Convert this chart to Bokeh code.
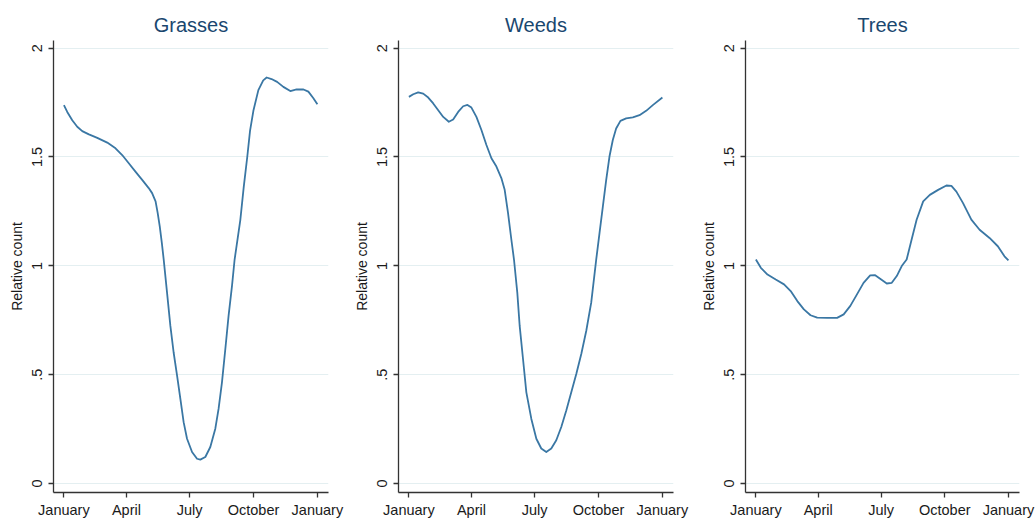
from bokeh.plotting import figure
from bokeh.layouts import row
from bokeh.models import FixedTicker
from bokeh.embed import file_html
from bokeh.resources import INLINE

# ---- data (day of year vs relative count) ----
month_ticks = [0, 90, 181, 273, 365]
month_labels = ["January", "April", "July", "October", "January"]
y_ticks = [0, 0.5, 1, 1.5, 2]
y_labels = ["0", ".5", "1", "1.5", "2"]

grasses_day = [0, 4.8, 12, 19.2, 26.4, 36, 48, 62.4, 74.3, 83.9, 93.4, 103, 112.7,
               122.1, 127, 132, 135, 138, 141, 143.7, 148.5, 153.3, 158, 163, 167.7,
               172.4, 177.3, 184.5, 191.7, 196.4, 203.6, 210.8, 218, 222.7, 227.6,
               232.4, 237.1, 242, 245.8, 254, 259, 264, 268, 273, 280, 287, 292, 299,
               307, 316, 326, 335, 345, 352, 359, 365]
grasses_val = [1.738, 1.707, 1.669, 1.639, 1.619, 1.604, 1.588, 1.566, 1.540, 1.509,
               1.471, 1.433, 1.395, 1.357, 1.334, 1.296, 1.243, 1.181, 1.105, 1.029,
               0.877, 0.724, 0.602, 0.495, 0.389, 0.282, 0.206, 0.145, 0.114, 0.110,
               0.122, 0.168, 0.252, 0.343, 0.465, 0.617, 0.770, 0.907, 1.029, 1.21,
               1.364, 1.50, 1.62, 1.715, 1.807, 1.852, 1.865, 1.858, 1.845, 1.822,
               1.803, 1.81, 1.81, 1.80, 1.771, 1.742]

weeds_day = [0, 6.2, 13.4, 20.6, 27.8, 35, 42.2, 49.4, 57.5, 63.7, 70.9, 78.1, 84.3,
             90, 97.2, 104.4, 111.6, 118.8, 126, 133.1, 137.9, 142.7, 147.5, 151.3,
             156.1, 159.5, 164.3, 169.1, 176.3, 183.5, 190.6, 197.8, 205, 212.2,
             219.4, 226.6, 233.8, 241, 248.2, 255.4, 262.5, 269.7, 274.5, 279.3,
             284.1, 288.8, 293.6, 298.4, 304.6, 312.8, 322.4, 332, 341.6, 351.2, 365]
weeds_val = [1.776, 1.788, 1.797, 1.791, 1.773, 1.746, 1.715, 1.684, 1.662, 1.672,
             1.707, 1.733, 1.739, 1.727, 1.684, 1.624, 1.555, 1.494, 1.456, 1.403,
             1.349, 1.243, 1.121, 1.029, 0.876, 0.724, 0.572, 0.419, 0.297, 0.206,
             0.161, 0.145, 0.161, 0.199, 0.260, 0.336, 0.419, 0.503, 0.595, 0.702,
             0.831, 1.029, 1.151, 1.273, 1.395, 1.502, 1.578, 1.631, 1.666, 1.677,
             1.682, 1.692, 1.712, 1.738, 1.773]

trees_day = [0, 7.2, 16.8, 28.7, 40.7, 50.3, 59.9, 69.4, 79, 88.6, 103, 117.4, 126.9,
             136.5, 146.1, 155.6, 165.2, 172.4, 179.6, 189.2, 196.4, 203.6, 210.8,
             217.9, 225.1, 232.3, 241.8, 251.4, 263.4, 275.4, 282.6, 289.8, 299.4,
             311.4, 323.3, 337.7, 349.7, 359.3, 365]
trees_val = [1.029, 0.991, 0.960, 0.937, 0.915, 0.884, 0.838, 0.800, 0.773, 0.762,
             0.761, 0.761, 0.777, 0.816, 0.869, 0.922, 0.956, 0.957, 0.941, 0.919,
             0.922, 0.953, 0.999, 1.029, 1.121, 1.212, 1.296, 1.326, 1.349, 1.369,
             1.367, 1.341, 1.288, 1.212, 1.166, 1.128, 1.090, 1.044, 1.025]

FONT = "Liberation Sans"
LINE = "#3a77a4"
TITLE = "#1a476f"
AXIS = "#333333"
GRID = "#e4eff1"
TEXT = "#1a1a1a"


def panel(title, days, vals, width, left, right):
    p = figure(width=width, height=520, x_range=(-15, 381), y_range=(-0.041, 2.035),
               output_backend="svg", toolbar_location=None,
               min_border_left=left, min_border_right=right,
               min_border_top=40, min_border_bottom=26)
    p.outline_line_color = None
    p.background_fill_color = "white"
    p.border_fill_color = "white"

    p.title.text = title
    p.title.align = "center"
    p.title.text_font = FONT
    p.title.text_font_size = "20px"
    p.title.text_font_style = "normal"
    p.title.text_color = TITLE

    p.line(days, vals, line_color=LINE, line_width=1.8, line_join="round")

    p.xgrid.visible = False
    p.ygrid.grid_line_color = GRID
    p.ygrid.grid_line_width = 1.2
    p.ygrid.ticker = FixedTicker(ticks=y_ticks)

    xa = p.xaxis[0]
    xa.ticker = FixedTicker(ticks=month_ticks)
    xa.major_label_overrides = {t: l for t, l in zip(month_ticks, month_labels)}
    xa.axis_label_standoff = 0
    ya = p.yaxis[0]
    ya.ticker = FixedTicker(ticks=y_ticks)
    ya.major_label_overrides = {t: l for t, l in zip(y_ticks, y_labels)}
    ya.major_label_orientation = "vertical"
    ya.axis_label = "Relative count"
    ya.axis_label_text_font = FONT
    ya.axis_label_text_font_size = "14px"
    ya.axis_label_text_font_style = "normal"
    ya.axis_label_text_color = TEXT
    ya.axis_label_standoff = 5

    for ax in (xa, ya):
        ax.axis_line_color = AXIS
        ax.axis_line_width = 1.3
        ax.major_tick_line_color = AXIS
        ax.major_tick_line_width = 1.3
        ax.major_tick_out = 5
        ax.major_tick_in = 0
        ax.minor_tick_line_color = None
        ax.major_label_text_font = FONT
        ax.major_label_text_font_size = "14.5px"
        ax.major_label_text_color = TEXT
        ax.major_label_standoff = 4
    ya.major_label_standoff = 6
    return p


p1 = panel("Grasses", grasses_day, grasses_val, 345, 53, 17)
p2 = panel("Weeds", weeds_day, weeds_val, 345, 53, 17)
p3 = panel("Trees", trees_day, trees_val, 345, 55, 16)

layout = row(p1, p2, p3)
open("out.html", "w").write(file_html(layout, INLINE))
